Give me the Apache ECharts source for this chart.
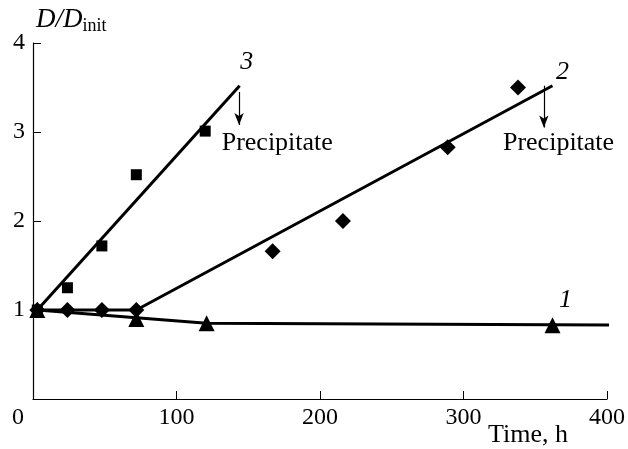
<!DOCTYPE html>
<html>
<head>
<meta charset="utf-8">
<script src="https://cdn.jsdelivr.net/npm/echarts@6/dist/echarts.min.js"></script>
<style>
html,body{margin:0;padding:0;background:#fff;}
#main{width:628px;height:449px;}
</style>
</head>
<body>
<div id="main"></div>
<script>
// measured points, time in h
var squares = [[3, 1.0], [24, 1.25], [48, 1.72], [72, 2.52], [120, 3.01]];
var diamonds = [[3, 1.0], [24, 1.0], [48, 1.0], [72, 1.0], [167, 1.66], [216, 2.0], [289, 2.83], [338, 3.5]];
var triangles = [[3, 1.0], [72, 0.9], [121, 0.85], [362, 0.83]];

// fitted lines
var fit3 = [[3, 1.0], [144, 3.52]];
var fit2 = [[3, 1.0], [72, 1.0], [362, 3.52]];
var fit1 = [[3, 1.0], [121, 0.85], [407, 0.83]];

var xTicks = [0, 100, 200, 300, 400];
var yTicks = [0, 1, 2, 3, 4];

var serif = '"Liberation Serif", "DejaVu Serif", serif';
var myChart = echarts.init(document.getElementById('main'));

function fitLine(d, width) {
  return {
    type: 'line', data: d, symbol: 'none', z: 3,
    lineStyle: { color: '#000', width: width }
  };
}
function markers(d, sym, size) {
  return {
    type: 'scatter', data: d, symbol: sym, symbolSize: size, z: 4,
    itemStyle: { color: '#000', opacity: 1 }
  };
}
function arrow(x, y0, y1) {
  return [{ coord: [x, y0], symbol: 'none' }, { coord: [x, y1], symbol: 'arrow', symbolSize: [7, 12] }];
}

var option = {
  animation: false,
  title: {
    text: '{d|D}{s|/}{d|D}{i|init}',
    left: 31, top: 0,
    textStyle: {
      rich: {
        d: { fontFamily: serif, fontStyle: 'italic', fontWeight: 'normal', fontSize: 27, color: '#000' },
        s: { fontFamily: serif, fontStyle: 'italic', fontWeight: 'normal', fontSize: 27, color: '#000' },
        i: { fontFamily: serif, fontWeight: 'normal', fontSize: 18, color: '#000', padding: [12, 0, 0, 0] }
      }
    }
  },
  graphic: [{
    type: 'text', left: 488, top: 422,
    style: { text: 'Time, h', font: '26px ' + serif, fill: '#000' }
  }],
  grid: { left: 33, right: 21, top: 43, bottom: 50 },
  xAxis: {
    type: 'value', min: xTicks[0], max: xTicks[xTicks.length - 1], interval: 100,
    splitLine: { show: false },
    axisLine: { lineStyle: { color: '#000', width: 1.2 } },
    axisTick: { inside: true, length: 8, lineStyle: { color: '#000' } },
    axisLabel: {
      margin: 7, color: '#000', fontFamily: serif, fontSize: 24,
      formatter: function (v) { return v === 0 ? '{z|0}' : String(v); },
      rich: { z: { fontFamily: serif, fontSize: 24, color: '#000', padding: [0, 30, 0, 0] } }
    }
  },
  yAxis: {
    type: 'value', min: yTicks[0], max: yTicks[yTicks.length - 1], interval: 1,
    splitLine: { show: false },
    axisLine: { lineStyle: { color: '#000', width: 1.2 } },
    axisTick: { inside: true, length: 8, lineStyle: { color: '#000' } },
    axisLabel: {
      margin: 8, color: '#000', fontFamily: serif, fontSize: 24,
      formatter: function (v) { return v === 0 ? '' : String(v); }
    }
  },
  series: [
    fitLine(fit3, 3),
    fitLine(fit2, 3),
    fitLine(fit1, 3),
    markers(squares, 'rect', 11),
    markers(diamonds, 'diamond', 16),
    markers(triangles, 'triangle', 16),
    {
      type: 'scatter', data: [], silent: true,
      markLine: {
        silent: true, animation: false,
        lineStyle: { color: '#000', width: 1.2, type: 'solid' },
        label: { show: false },
        data: [arrow(143.6, 3.45, 3.08), arrow(356, 3.52, 3.05)]
      },
      markPoint: {
        silent: true, symbol: 'circle', symbolSize: 0,
        label: { show: true, color: '#000', fontFamily: serif, fontSize: 26 },
        data: [
          { coord: [131.5, 2.88], label: { formatter: 'Precipitate', position: 'right', distance: 0 } },
          { coord: [327.5, 2.88], label: { formatter: 'Precipitate', position: 'right', distance: 0 } },
          { coord: [149, 3.78], label: { formatter: '3', fontStyle: 'italic', fontSize: 26 } },
          { coord: [369, 3.67], label: { formatter: '2', fontStyle: 'italic', fontSize: 26 } },
          { coord: [371, 1.11], label: { formatter: '1', fontStyle: 'italic', fontSize: 26 } }
        ]
      }
    }
  ]
};
myChart.setOption(option);
</script>
</body>
</html>
